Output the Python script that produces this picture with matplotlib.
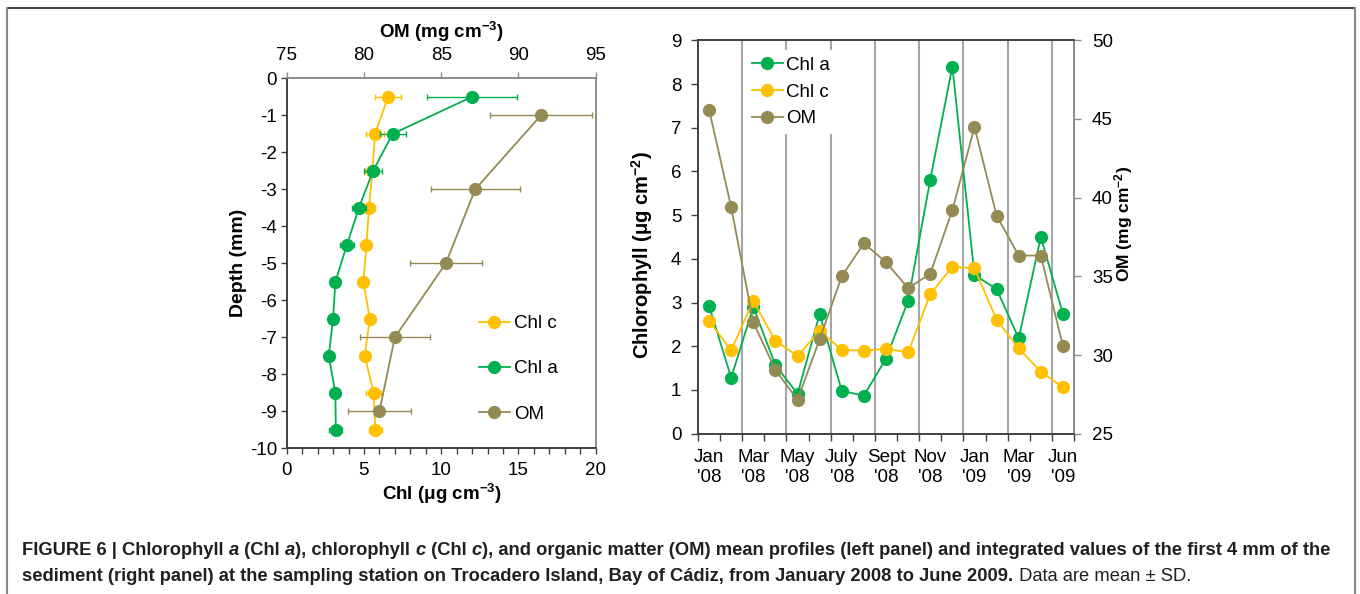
import numpy as np
import matplotlib
matplotlib.use("Agg")
import matplotlib.pyplot as plt
from matplotlib.lines import Line2D

plt.rcParams['font.family'] = ['Liberation Sans', 'DejaVu Sans']
plt.rcParams['mathtext.fontset'] = 'custom'
plt.rcParams['mathtext.rm'] = 'Liberation Sans'
plt.rcParams['mathtext.bf'] = 'Liberation Sans:bold'
plt.rcParams['mathtext.it'] = 'Liberation Sans:italic'

# ---- depth profiles (left panel) ----
depth_chl = [-0.5, -1.5, -2.5, -3.5, -4.5, -5.5, -6.5, -7.5, -8.5, -9.5]
chla_profile = [12.0, 6.86, 5.59, 4.67, 3.90, 3.15, 3.0, 2.72, 3.15, 3.18]
chla_profile_sd = [2.9, 0.84, 0.6, 0.45, 0.44, 0.1, 0.1, 0.1, 0.1, 0.43]
chlc_profile = [6.56, 5.72, 5.55, 5.33, 5.16, 4.96, 5.38, 5.05, 5.63, 5.74]
chlc_profile_sd = [0.84, 0.6, 0.45, 0.38, 0.3, 0.15, 0.2, 0.15, 0.48, 0.43]
depth_om = [-1, -3, -5, -7, -9]
om_profile = [91.46, 87.2, 85.3, 82.0, 81.0]
om_profile_sd = [3.28, 2.87, 2.33, 2.27, 2.05]

# ---- integrated values, first 4 mm (right panel) ----
sampling_months = ['Jan 08', 'Feb 08', 'Mar 08', 'Apr 08', 'May 08', 'Jun 08',
                   'Jul 08', 'Aug 08', 'Sep 08', 'Oct 08', 'Nov 08', 'Dec 08',
                   'Jan 09', 'Feb 09', 'Mar 09', 'Apr 09', 'Jun 09']
chla_int = [2.93, 1.28, 2.90, 1.57, 0.91, 2.74, 0.98, 0.87, 1.72, 3.04,
            5.81, 8.40, 3.63, 3.31, 2.18, 4.50, 2.74]
chlc_int = [2.58, 1.91, 3.04, 2.12, 1.78, 2.35, 1.92, 1.90, 1.94, 1.86,
            3.19, 3.82, 3.78, 2.61, 1.95, 1.42, 1.06]
om_int = [45.6, 39.4, 32.08, 29.05, 27.16, 31.0, 35.0, 37.1, 35.9, 34.25,
          35.16, 39.2, 44.5, 38.86, 36.32, 36.32, 30.56]
month_tick_idx = [0, 2, 4, 6, 8, 10, 12, 14, 16]
month_tick_labels = ["Jan\n'08", "Mar\n'08", "May\n'08", "July\n'08", "Sept\n'08",
                     "Nov\n'08", "Jan\n'09", "Mar\n'09", "Jun\n'09"]

GREEN = '#00B050'
YELLOW = '#FFC000'
OLIVE = '#948A54'
DARK = '#404040'
GREY = '#8C8C8C'
FS = 13.5
MS = 8.5

W, H = 1360, 594
fig = plt.figure(figsize=(W / 100, H / 100), dpi=100)


def px_axes(x0, y0, x1, y1):
    return fig.add_axes([x0 / W, 1 - y1 / H, (x1 - x0) / W, (y1 - y0) / H])


def ftext(x, y, s, **kw):
    return fig.text(x / W, 1 - y / H, s, **kw)


# ================= left panel =================
ax1 = px_axes(286.7, 78.3, 595.7, 448.3)
ax1.set_xlim(0, 20)
ax1.set_ylim(-10, 0)
mk = dict(marker='o', ms=MS, lw=1.3, elinewidth=1.0, capsize=2.5, capthick=1.0)
ax1.errorbar(chlc_profile, depth_chl, xerr=chlc_profile_sd, color=YELLOW, zorder=3, **mk)
ax1.errorbar(chla_profile, depth_chl, xerr=chla_profile_sd, color=GREEN, zorder=4, **mk)
ax1.set_xticks(np.arange(0, 21, 5))
ax1.set_xticks(np.arange(0, 21, 1), minor=True)
ax1.set_yticks(np.arange(-10, 1, 1))
ax1.tick_params(axis='x', which='both', direction='out', length=4, width=1, colors=DARK,
                labelcolor='black', labelsize=FS, pad=6)
ax1.tick_params(axis='y', direction='out', length=4, width=1, colors=DARK,
                labelcolor='black', labelsize=FS, pad=3)
ax1.set_yticklabels([f'{v:d}' for v in range(-10, 1)])

ax1t = ax1.twiny()
ax1t.set_xlim(75, 95)
ax1t.errorbar(om_profile, depth_om, xerr=om_profile_sd, color=OLIVE, zorder=5, **mk)
ax1t.set_xticks(np.arange(75, 96, 5))
ax1t.tick_params(axis='x', direction='out', length=4, width=1, colors=GREY,
                 labelcolor='black', labelsize=FS, pad=6)
for a in (ax1, ax1t):
    a.spines['left'].set_color(DARK)
    a.spines['bottom'].set_color(DARK)
    a.spines['top'].set_color(GREY)
    a.spines['right'].set_color(GREY)
    for s in a.spines.values():
        s.set_linewidth(1.2)

h_chlc = Line2D([], [], color=YELLOW, marker='o', ms=MS, lw=1.3)
h_chla = Line2D([], [], color=GREEN, marker='o', ms=MS, lw=1.3)
h_om = Line2D([], [], color=OLIVE, marker='o', ms=MS, lw=1.3)
ax1t.legend([h_chlc, h_chla, h_om], ['Chl c', 'Chl a', 'OM'], loc='upper left',
            bbox_to_anchor=(479 / W, 1 - 315 / H), bbox_transform=fig.transFigure,
            frameon=False, fontsize=FS, handlelength=1.65, handletextpad=0.2,
            labelspacing=1.5, borderpad=0, borderaxespad=0)

ftext(441, 32, r'OM (mg cm$^{\mathbf{-3}}$)', fontsize=FS, fontweight='bold',
      ha='center', va='center')
ftext(441.5, 494, r'Chl ($\mathbf{\mu}$g cm$^{\mathbf{-3}}$)', fontsize=FS, fontweight='bold',
      ha='center', va='center')
ftext(239, 263, 'Depth (mm)', fontsize=14, fontweight='bold', rotation=90,
      ha='center', va='center')

# ================= right panel =================
ax2 = px_axes(698, 40.3, 1074, 433.7)
n = len(sampling_months)
xi = np.arange(n)
ax2.set_xlim(-0.5, n - 0.5)
ax2.set_ylim(0, 9)
for gx in np.arange(1.5, n - 0.5, 2):
    ax2.axvline(gx, color='#A6A6A6', lw=1.5, zorder=0)
ax2.plot(xi, chla_int, color=GREEN, marker='o', ms=MS, lw=1.3, zorder=3)
ax2.plot(xi, chlc_int, color=YELLOW, marker='o', ms=MS, lw=1.3, zorder=4)
ax2.set_xticks(np.arange(-0.5, n, 1))
ax2.set_xticklabels([])
ax2.set_xticks(month_tick_idx, minor=True)
ax2.set_xticklabels(month_tick_labels, minor=True)
ax2.tick_params(axis='x', which='major', direction='out', length=5, width=1, colors=DARK)
ax2.tick_params(axis='x', which='minor', length=0, labelsize=FS, pad=11)
ax2.set_yticks(np.arange(0, 10, 1))
ax2.tick_params(axis='y', direction='out', length=5, width=1, colors=DARK,
                labelcolor='black', labelsize=FS, pad=7)

ax2r = ax2.twinx()
ax2r.set_ylim(25, 50)
ax2r.plot(xi, om_int, color=OLIVE, marker='o', ms=MS, lw=1.3, zorder=5)
ax2r.set_yticks(np.arange(25, 51, 5))
ax2r.tick_params(axis='y', direction='out', length=5, width=1, colors=GREY,
                 labelcolor='black', labelsize=FS, pad=8)
for a in (ax2, ax2r):
    a.spines['left'].set_color(DARK)
    a.spines['bottom'].set_color(DARK)
    a.spines['top'].set_color(DARK)
    a.spines['right'].set_color(GREY)
    for s in a.spines.values():
        s.set_linewidth(1.2)

leg2 = ax2r.legend([h_chla, h_chlc, h_om], ['Chl a', 'Chl c', 'OM'], loc='upper left',
                   bbox_to_anchor=(745 / W, 1 - 50 / H), bbox_transform=fig.transFigure,
                   frameon=True, fontsize=FS, handlelength=1.65, handletextpad=0.2,
                   labelspacing=0.52, borderpad=0.35, borderaxespad=0, fancybox=False)
leg2.get_frame().set_facecolor('white')
leg2.get_frame().set_edgecolor('none')
leg2.get_frame().set_alpha(1)

ftext(642.5, 255, r'Chlorophyll ($\mathbf{\mu}$g cm$^{\mathbf{-2}}$)', fontsize=14.5,
      fontweight='bold', rotation=90, ha='center', va='center')
ftext(1124, 224, r'OM (mg cm$^{\mathbf{-2}}$)', fontsize=12.5, fontweight='bold',
      rotation=90, ha='center', va='center')

# ================= frame =================
fig.add_artist(Line2D([7 / W, 1355 / W], [1 - 8 / H, 1 - 8 / H], color='#444444', lw=1.5,
                      transform=fig.transFigure))
fig.add_artist(Line2D([7 / W, 7 / W], [1 - 8 / H, -0.01], color='#888888', lw=1.5,
                      transform=fig.transFigure))
fig.add_artist(Line2D([1355 / W, 1355 / W], [1 - 8 / H, -0.01], color='#888888', lw=1.5,
                      transform=fig.transFigure))

# ================= caption =================
renderer = fig.canvas.get_renderer()
CAP_COLOR = '#231F20'


def text_width(s, size, weight, style):
    t = fig.text(0, 0, '|' + s + '|', fontsize=size, fontweight=weight, fontstyle=style)
    t0 = fig.text(0, 0, '||', fontsize=size, fontweight=weight, fontstyle=style)
    w = t.get_window_extent(renderer).width - t0.get_window_extent(renderer).width
    t.remove()
    t0.remove()
    return w


def rich_line(x, y, parts, size):
    for s, weight, style in parts:
        ftext(x, y, s, fontsize=size, fontweight=weight, fontstyle=style,
              ha='left', va='baseline', color=CAP_COLOR)
        x += text_width(s, size, weight, style)
    return x


line1 = [('FIGURE 6 | Chlorophyll ', 'bold', 'normal'), ('a', 'bold', 'italic'),
         (' (Chl ', 'bold', 'normal'), ('a', 'bold', 'italic'),
         ('), chlorophyll ', 'bold', 'normal'), ('c', 'bold', 'italic'),
         (' (Chl ', 'bold', 'normal'), ('c', 'bold', 'italic'),
         ('), and organic matter (OM) mean profiles (left panel) and integrated values of the first 4 mm of the',
          'bold', 'normal')]
line2 = [('sediment (right panel) at the sampling station on Trocadero Island, Bay of Cádiz, '
          'from January 2008 to June 2009.', 'bold', 'normal'),
         (' Data are mean ± SD.', 'normal', 'normal')]

base = 11.0
w1 = sum(text_width(s, base, wt, st) for s, wt, st in line1)
cap_size = base * (1314.0 / w1)
rich_line(22.5, 555, line1, cap_size)
rich_line(22.5, 581, line2, cap_size)

fig.savefig('out.png', dpi=100)
